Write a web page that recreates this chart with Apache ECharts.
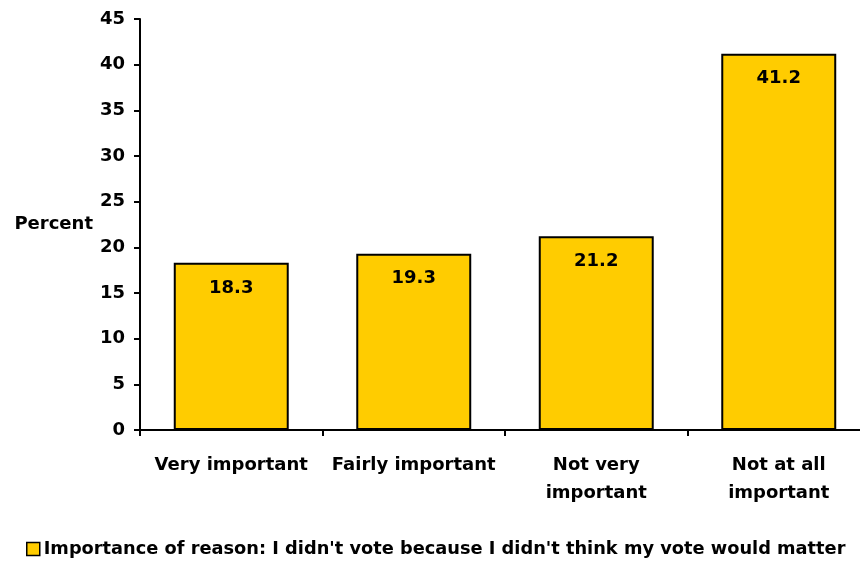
<!DOCTYPE html>
<html>
<head>
<meta charset="utf-8">
<script src="https://cdn.jsdelivr.net/npm/echarts@6/dist/echarts.min.js"></script>
<style>html,body{margin:0;padding:0;background:#fff;}#c{width:860px;height:566px;}</style>
</head>
<body>
<div id="c"></div>
<script>
var categories = ['Very important', 'Fairly important', 'Not very\nimportant', 'Not at all\nimportant'];
var values = [18.3, 19.3, 21.2, 41.2];
var seriesName = "Importance of reason: I didn't vote because I didn't think my vote would matter";
var yTicks = { min: 0, max: 45, interval: 5 };
var yTitle = 'Percent';

var FONT = 'DejaVu Sans';
var chart = echarts.init(document.getElementById('c'), null, { renderer: 'canvas' });
chart.setOption({
  animation: false,
  backgroundColor: '#ffffff',
  textStyle: { fontFamily: FONT },
  grid: { left: 140, top: 19, height: 411, width: 730, containLabel: false, outerBoundsMode: 'none' },
  legend: {
    data: [seriesName],
    left: 26,
    bottom: 8,
    padding: 0,
    icon: 'rect',
    itemWidth: 13,
    itemHeight: 13,
    itemGap: 4,
    textStyle: { fontFamily: FONT, fontWeight: 'bold', fontSize: 17.8, color: '#000', padding: [0, 0, 0, -1] },
    itemStyle: { borderColor: '#000', borderWidth: 1.5 }
  },
  xAxis: {
    type: 'category',
    data: categories,
    boundaryGap: true,
    axisLine: { lineStyle: { color: '#000', width: 2 } },
    axisTick: { show: true, length: 6, lineStyle: { color: '#000', width: 2 }, alignWithLabel: false },
    axisLabel: { interval: 0, margin: 21, fontFamily: FONT, fontWeight: 'bold', fontSize: 18, color: '#000', lineHeight: 28, align: 'center' },
    splitLine: { show: false }
  },
  yAxis: {
    type: 'value',
    min: yTicks.min,
    max: yTicks.max,
    interval: yTicks.interval,
    name: yTitle,
    nameLocation: 'middle',
    nameRotate: 0,
    nameGap: 47,
    nameTextStyle: { fontFamily: FONT, fontWeight: 'bold', fontSize: 18, color: '#000', align: 'right' },
    axisLine: { show: true, lineStyle: { color: '#000', width: 2 } },
    axisTick: { show: true, length: 6, lineStyle: { color: '#000', width: 2 } },
    axisLabel: { margin: 15, fontFamily: FONT, fontWeight: 'bold', fontSize: 18, color: '#000' },
    splitLine: { show: false }
  },
  series: [{
    name: seriesName,
    type: 'bar',
    data: values,
    barCategoryGap: '37%',
    itemStyle: { color: '#FFCC00', borderColor: '#000', borderWidth: 2 },
    label: {
      show: true,
      position: 'insideTop',
      distance: 16,
      fontFamily: FONT,
      fontWeight: 'bold',
      fontSize: 18,
      color: '#000',
      formatter: function (p) { return p.value.toFixed(1); }
    }
  }]
});
</script>
</body>
</html>
